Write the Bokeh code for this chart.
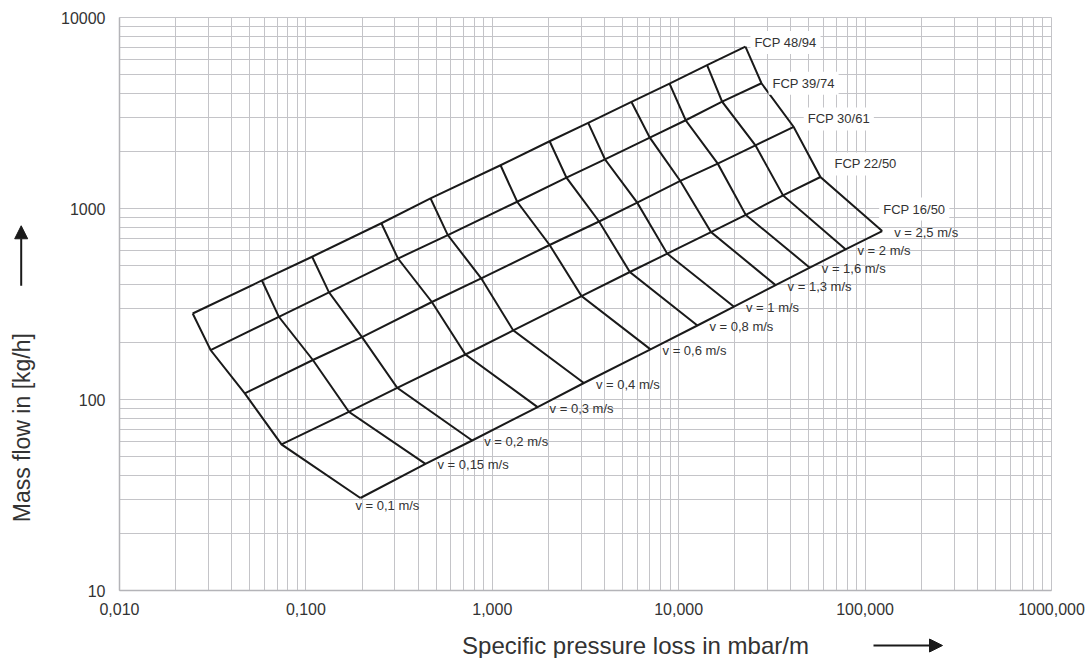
import math
from bokeh.plotting import figure
from bokeh.layouts import row, column
from bokeh.models import FixedTicker, Label, Arrow, NormalHead, Range1d
from bokeh.embed import file_html
from bokeh.resources import INLINE

# ---------------- data ----------------
velocities = [0.1, 0.15, 0.2, 0.3, 0.4, 0.6, 0.8, 1, 1.3, 1.6, 2, 2.5]
v_labels = ["v = 0,1 m/s", "v = 0,15 m/s", "v = 0,2 m/s", "v = 0,3 m/s",
            "v = 0,4 m/s", "v = 0,6 m/s", "v = 0,8 m/s", "v = 1 m/s",
            "v = 1,3 m/s", "v = 1,6 m/s", "v = 2 m/s", "v = 2,5 m/s"]
pipes = ["FCP 16/50", "FCP 22/50", "FCP 30/61", "FCP 39/74", "FCP 48/94"]

# specific pressure loss [mbar/m] per pipe, one value per velocity
dp_fcp16 = [0.196, 0.438, 0.78, 1.75, 3.10, 7.06, 12.6, 19.8, 33.1, 50.5, 78.5, 123.5]
dp_fcp22 = [0.074, 0.170, 0.309, 0.718, 1.295, 3.01, 5.47, 8.68, 14.9, 22.9, 36.3, 57.6]
dp_fcp30 = [0.047, 0.109, 0.200, 0.474, 0.872, 2.03, 3.74, 5.99, 10.2, 16.2, 25.8, 41.4]
dp_fcp39 = [0.0308, 0.0716, 0.133, 0.312, 0.577, 1.36, 2.50, 4.02, 7.00, 10.9, 17.1, 27.8]
dp_fcp48 = [0.0247, 0.0581, 0.108, 0.254, 0.466, 1.107, 2.03, 3.27, 5.58, 8.93, 14.2, 22.8]

# mass flow [kg/h] per pipe, one value per velocity
mf_fcp16 = [30.5, 46.0, 61.0, 91.2, 122, 183, 244, 306, 397, 490, 611, 762]
mf_fcp22 = [58.2, 86.2, 115, 172, 230, 348, 465, 580, 753, 925, 1170, 1462]
mf_fcp30 = [107.6, 161, 212, 324, 431, 644, 855, 1073, 1394, 1717, 2143, 2673]
mf_fcp39 = [181.5, 271, 364, 547, 726, 1085, 1450, 1810, 2349, 2897, 3626, 4527]
mf_fcp48 = [282, 420, 559, 837, 1131, 1684, 2249, 2805, 3613, 4506, 5625, 7040]

x_ticks = [0.01, 0.1, 1, 10, 100, 1000]
x_tick_labels = ["0,010", "0,100", "1,000", "10,000", "100,000", "1000,000"]
y_ticks = [10, 100, 1000, 10000]
y_tick_labels = ["10", "100", "1000", "10000"]

x_title = "Specific pressure loss in mbar/m"
y_title = "Mass flow in [kg/h]"

# ---------------- styling ----------------
FONT = "Liberation Sans"
GRID = "#c4c4c8"
INK = "#1a1a1a"
TXT = "#333333"

STRIP_W = 40          # left strip holding the y title + arrow
MAIN_L, MAIN_R, MAIN_T, MAIN_B = 79, 38, 17, 40
FRAME_W, FRAME_H = 932, 573
MAIN_H = MAIN_T + FRAME_H + MAIN_B
TOTAL_W = STRIP_W + MAIN_L + FRAME_W + MAIN_R
BOTTOM_H = 28

# ---------------- main chart ----------------
p = figure(x_axis_type="log", y_axis_type="log",
           x_range=Range1d(0.01, 1000), y_range=Range1d(10, 10000),
           frame_width=FRAME_W, frame_height=FRAME_H,
           min_border_left=MAIN_L, min_border_right=MAIN_R,
           min_border_top=MAIN_T, min_border_bottom=MAIN_B,
           output_backend="svg", toolbar_location=None,
           background_fill_color="white", border_fill_color="white")
p.outline_line_color = GRID
p.outline_line_width = 1

x_minor = [k * 10.0 ** e for e in range(-2, 3) for k in range(2, 10)]
y_minor = [k * 10.0 ** e for e in range(1, 4) for k in range(2, 10)]
xt = FixedTicker(ticks=x_ticks, minor_ticks=x_minor)
yt = FixedTicker(ticks=y_ticks, minor_ticks=y_minor)
p.xaxis.ticker = xt
p.yaxis.ticker = yt
p.xgrid.ticker = xt
p.ygrid.ticker = yt
p.xaxis.major_label_overrides = dict(zip(x_ticks, x_tick_labels))
p.yaxis.major_label_overrides = dict(zip(y_ticks, y_tick_labels))

for g in (p.xgrid, p.ygrid):
    g.grid_line_color = GRID
    g.grid_line_width = 1
    g.minor_grid_line_color = GRID
    g.minor_grid_line_width = 1

for ax in (p.xaxis, p.yaxis):
    ax.axis_line_color = "#b4b4b8"
    ax.axis_line_width = 1.5
    ax.major_tick_line_color = None
    ax.minor_tick_line_color = None
    ax.major_tick_out = 0
    ax.major_tick_in = 0
    ax.minor_tick_out = 0
    ax.minor_tick_in = 0
    ax.major_label_text_font = FONT
    ax.major_label_text_font_size = "16px"
    ax.major_label_text_color = TXT
p.xaxis.major_label_standoff = 12
p.yaxis.major_label_standoff = 14

dp_all = [dp_fcp16, dp_fcp22, dp_fcp30, dp_fcp39, dp_fcp48]
mf_all = [mf_fcp16, mf_fcp22, mf_fcp30, mf_fcp39, mf_fcp48]

# pipe lines (constant diameter)
p.multi_line(xs=dp_all, ys=mf_all, line_color=INK, line_width=2, line_join="miter")
# velocity lines (constant velocity across the pipes)
vx = [[dp[i] for dp in dp_all] for i in range(len(velocities))]
vy = [[mf[i] for mf in mf_all] for i in range(len(velocities))]
p.multi_line(xs=vx, ys=vy, line_color=INK, line_width=2, line_join="miter")

# velocity labels along FCP 16/50
for i, txt in enumerate(v_labels):
    xo, yo = (-5, -8) if i == 0 else (12, -1)
    p.add_layout(Label(x=dp_fcp16[i], y=mf_fcp16[i], text=txt,
                       x_offset=xo, y_offset=yo,
                       text_align="left", text_baseline="middle",
                       text_font=FONT, text_font_size="13px", text_color=TXT))

# pipe labels at the end of each pipe line
pipe_offsets = [(-3, 22), (10, 13), (10, 8), (7, 0), (5, 4)]
for name, dp, mf, (xo, yo) in zip(pipes, dp_all, mf_all, pipe_offsets):
    p.add_layout(Label(x=dp[-1], y=mf[-1], text=name,
                       x_offset=xo, y_offset=yo,
                       text_align="left", text_baseline="middle",
                       text_font=FONT, text_font_size="13px", text_color=TXT,
                       background_fill_color="white", padding=4))

# ---------------- helper strips for axis titles and arrows ----------------
def strip(w, h):
    s = figure(width=w, height=h, x_range=Range1d(0, w), y_range=Range1d(h, 0),
               x_axis_type=None, y_axis_type=None,
               min_border=0, min_border_left=0, min_border_right=0,
               min_border_top=0, min_border_bottom=0,
               output_backend="svg", toolbar_location=None,
               background_fill_color="white", border_fill_color="white")
    s.outline_line_color = None
    s.grid.visible = False
    return s

left = strip(STRIP_W, MAIN_H)
left.add_layout(Label(x=21, y=451, text=y_title, angle=math.pi / 2,
                      text_align="center", text_baseline="middle",
                      text_font=FONT, text_font_size="23px", text_color=TXT))
left.add_layout(Arrow(x_start=20.7, y_start=295, x_end=20.7, y_end=229,
                      line_color=INK, line_width=2,
                      end=NormalHead(size=13, fill_color=INK, line_color=INK)))

bottom = strip(TOTAL_W, BOTTOM_H)
bottom.add_layout(Label(x=635, y=15, text=x_title,
                        text_align="center", text_baseline="middle",
                        text_font=FONT, text_font_size="24px", text_color=TXT))
bottom.add_layout(Arrow(x_start=873, y_start=15, x_end=942, y_end=15,
                        line_color=INK, line_width=2,
                        end=NormalHead(size=13, fill_color=INK, line_color=INK)))

layout = column(row(left, p), bottom)
open("out.html", "w").write(file_html(layout, INLINE))
